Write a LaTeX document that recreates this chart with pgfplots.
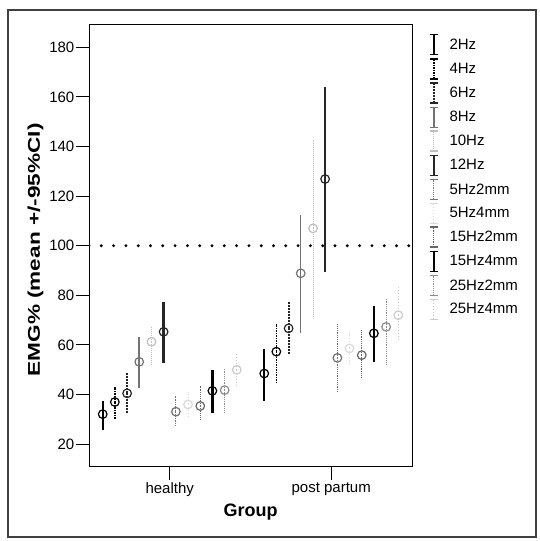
\documentclass[border=0pt]{standalone}
\usepackage{fontspec}
\setmainfont{Liberation Sans}
\usepackage{pgfplots}
\pgfplotsset{compat=1.18}
\pgfplotsset{
  ser/.style 2 args={only marks, mark=o, mark size=4.3pt,
    mark options={solid, draw=#1, line width=1.2pt},
    error bars/y dir=both, error bars/y explicit, error bars/error mark=none,
    error bars/error bar style={draw=#1, #2},
    legend image code/.code={
      \draw[draw=#1,#2] (0pt,-10pt)--(0pt,10pt);
      \draw[draw=#1,solid,line width=1.3pt] (-4pt,-10pt)--(4pt,-10pt) (-4pt,10pt)--(4pt,10pt);}
  },
}
\begin{document}
\begin{tikzpicture}[x=1pt,y=1pt]
\useasboundingbox (0,0) rectangle (539,541);
\draw[line width=1.2pt, black!75] (8,4) rectangle (536,531);
\begin{axis}[at={(89pt,74.5pt)}, anchor=south west, scale only axis,
  width=323pt, height=442pt,
  xmin=0.5, xmax=2.5, ymin=11, ymax=189.2,
  xtick={1,2}, xticklabels={healthy,post partum},
  ytick={20,40,...,180},
  tick pos=left, tick align=outside, major tick length=13pt,
  tick style={black, line width=1pt},
  axis line style={line width=1pt},
  /pgf/number format/assume math mode=true,
  ticklabel style={font=\fontsize{15}{18}\selectfont},
  yticklabel style={inner sep=1.5pt},
  xlabel={Group},
  xlabel style={font=\bfseries\fontsize{18}{22}\selectfont},
  ylabel={\scalebox{1.33}[1]{EMG\% (mean +/-95\%CI)}},
  ylabel style={font=\bfseries\fontsize{17}{20}\selectfont, at={(axis description cs:-0.1656,0.49)}, anchor=center},
  legend style={at={(1,1)}, anchor=north west, xshift=14pt, yshift=-7pt, draw=none, fill=none,
    font=\fontsize{15}{18}\selectfont, row sep=2.4pt, column sep=10pt,
    nodes={inner sep=1pt}},
  legend cell align=left,
]
\addplot[black, line width=3.2pt, line cap=round, dash pattern=on 0pt off 12.3pt, forget plot] coordinates {(0.5,100) (2.5,100)};
% 2Hz
\addplot[ser={black}{line width=2pt}] table[x=x,y=y,y error plus=ep,y error minus=em,row sep=\\]{
x y ep em\\ 0.585 32.1 5.4 6.4\\ 1.585 48.5 9.8 11.0\\};
% 4Hz
\addplot[ser={black}{line width=1.5pt, densely dotted}] table[x=x,y=y,y error plus=ep,y error minus=em,row sep=\\]{
x y ep em\\ 0.660 37.0 6.1 7.0\\ 1.660 57.3 11.1 12.4\\};
% 6Hz
\addplot[ser={black!85}{line width=2pt, densely dotted}] table[x=x,y=y,y error plus=ep,y error minus=em,row sep=\\]{
x y ep em\\ 0.736 40.5 8.3 8.4\\ 1.736 66.7 10.5 10.8\\};
% 8Hz
\addplot[ser={black!55}{line width=1.5pt}] table[x=x,y=y,y error plus=ep,y error minus=em,row sep=\\]{
x y ep em\\ 0.811 53.2 9.9 10.7\\ 1.811 88.9 23.5 24.0\\};
% 10Hz
\addplot[ser={black!25}{line width=1pt, densely dotted}] table[x=x,y=y,y error plus=ep,y error minus=em,row sep=\\]{
x y ep em\\ 0.887 61.3 6.3 9.5\\ 1.887 107.0 35.6 35.6\\};
% 12Hz
\addplot[ser={black!85}{line width=2.5pt}] table[x=x,y=y,y error plus=ep,y error minus=em,row sep=\\]{
x y ep em\\ 0.962 65.3 12.1 12.7\\ 1.962 126.9 37.1 37.4\\};
% 5Hz2mm
\addplot[ser={black!55}{line width=1.2pt, densely dotted}] table[x=x,y=y,y error plus=ep,y error minus=em,row sep=\\]{
x y ep em\\ 1.038 33.1 6.3 6.1\\ 2.038 54.8 13.6 13.7\\};
% 5Hz4mm
\addplot[ser={black!15}{line width=1pt, dotted}] table[x=x,y=y,y error plus=ep,y error minus=em,row sep=\\]{
x y ep em\\ 1.113 36.0 5.0 5.0\\ 2.113 58.6 6.4 6.6\\};
% 15Hz2mm
\addplot[ser={black!60}{line width=1.2pt, densely dotted}] table[x=x,y=y,y error plus=ep,y error minus=em,row sep=\\]{
x y ep em\\ 1.189 35.4 8.0 5.7\\ 2.189 55.9 10.1 9.4\\};
% 15Hz4mm
\addplot[ser={black}{line width=2.5pt}] table[x=x,y=y,y error plus=ep,y error minus=em,row sep=\\]{
x y ep em\\ 1.264 41.5 8.4 8.8\\ 2.264 64.7 11.0 11.5\\};
% 25Hz2mm
\addplot[ser={black!45}{line width=1.2pt, densely dotted}] table[x=x,y=y,y error plus=ep,y error minus=em,row sep=\\]{
x y ep em\\ 1.340 41.8 8.8 9.1\\ 2.340 67.3 11.5 15.4\\};
% 25Hz4mm
\addplot[ser={black!20}{line width=1pt, dotted}] table[x=x,y=y,y error plus=ep,y error minus=em,row sep=\\]{
x y ep em\\ 1.415 50.0 7.0 7.0\\ 2.415 72.0 12.0 10.0\\};
\legend{2Hz,4Hz,6Hz,8Hz,10Hz,12Hz,5Hz2mm,5Hz4mm,15Hz2mm,15Hz4mm,25Hz2mm,25Hz4mm}
\end{axis}
\end{tikzpicture}
\end{document}
